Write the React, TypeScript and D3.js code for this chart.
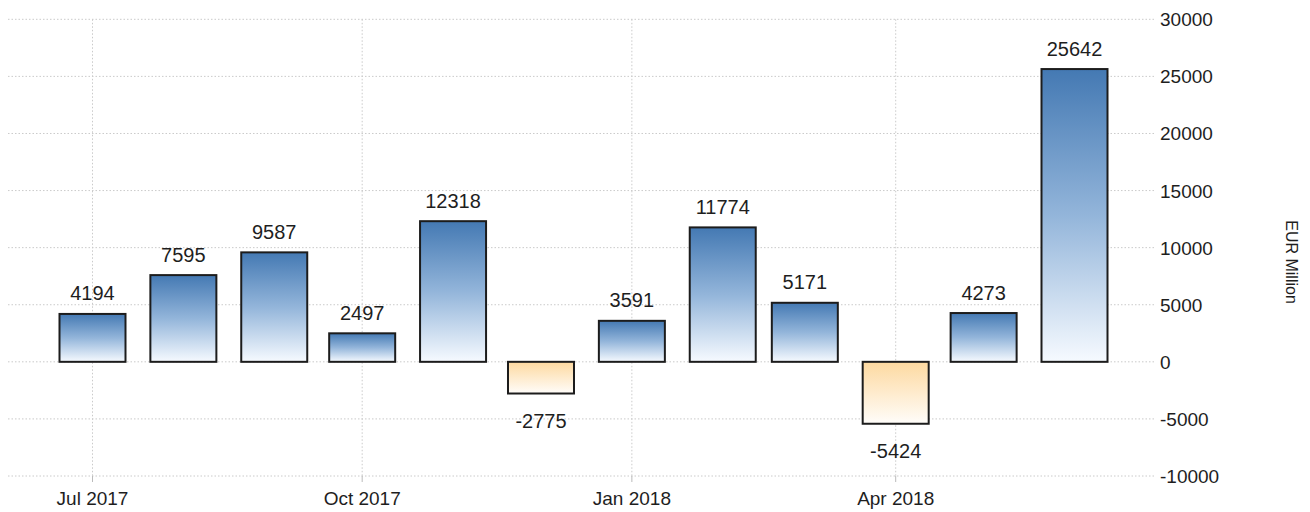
import React from "react";
import * as d3 from "d3";

const months: string[] = [
  "2017-07", "2017-08", "2017-09", "2017-10", "2017-11", "2017-12",
  "2018-01", "2018-02", "2018-03", "2018-04", "2018-05", "2018-06",
];
const values: number[] = [4194, 7595, 9587, 2497, 12318, -2775, 3591, 11774, 5171, -5424, 4273, 25642];
const xTickDates: string[] = ["2017-07", "2017-10", "2018-01", "2018-04"];
const xTickLabels: string[] = ["Jul 2017", "Oct 2017", "Jan 2018", "Apr 2018"];
const yTicks: number[] = [30000, 25000, 20000, 15000, 10000, 5000, 0, -5000, -10000];
const yLabel = "EUR Million";

const parse = (s: string) => {
  const [y, m] = s.split("-").map(Number);
  return new Date(y, m - 1, 1);
};

export default function App() {
  const W = 1310;
  const H = 512;
  const x = d3
    .scaleTime()
    .domain([parse(months[0]), parse(months[months.length - 1])])
    .range([92.5, 1074.5]);
  const y = d3.scaleLinear().domain([-10000, 30000]).range([476, 19.3]);
  const gridLeft = 8;
  const gridRight = 1155;
  const barW = 66;
  const font = "'Liberation Sans', Arial, sans-serif";
  const textColor = "#1e1e1e";

  return (
    <svg
      width={W}
      height={H}
      style={{ position: "absolute", left: 0, top: 0, background: "#fff" }}
      fontFamily={font}
    >
      <defs>
        <linearGradient id="posGrad" x1="0" y1="0" x2="0" y2="1">
          <stop offset="0%" stopColor="#4479b3" />
          <stop offset="50%" stopColor="#93b5da" />
          <stop offset="100%" stopColor="#f6faff" />
        </linearGradient>
        <linearGradient id="negGrad" x1="0" y1="0" x2="0" y2="1">
          <stop offset="0%" stopColor="#fdd9a0" />
          <stop offset="100%" stopColor="#fffdfa" />
        </linearGradient>
      </defs>

      {/* horizontal grid */}
      {yTicks.map((t) => (
        <line
          key={"h" + t}
          x1={gridLeft}
          x2={gridRight}
          y1={y(t)}
          y2={y(t)}
          stroke="#cacaca"
          strokeWidth={1}
          strokeDasharray="1.5,2"
        />
      ))}
      {/* vertical grid */}
      {xTickDates.map((d) => (
        <g key={"v" + d}>
          <line
            x1={x(parse(d))}
            x2={x(parse(d))}
            y1={y(30000)}
            y2={y(-10000)}
            stroke="#cacaca"
            strokeWidth={1}
            strokeDasharray="1.5,2"
          />
          <line
            x1={x(parse(d))}
            x2={x(parse(d))}
            y1={y(-10000)}
            y2={y(-10000) + 6}
            stroke="#bbb"
            strokeWidth={1}
          />
        </g>
      ))}

      {/* bars */}
      {values.map((v, i) => {
        const cx = x(parse(months[i]));
        const y0 = y(0);
        const yv = y(v);
        const top = Math.min(y0, yv);
        const h = Math.abs(yv - y0);
        return (
          <g key={"b" + i}>
            <rect
              x={cx - barW / 2}
              y={top}
              width={barW}
              height={h}
              fill={v >= 0 ? "url(#posGrad)" : "url(#negGrad)"}
              stroke="#1c1c1c"
              strokeWidth={2}
            />
            <text
              x={cx}
              y={v >= 0 ? yv - 13.5 : yv + 34}
              textAnchor="middle"
              fontSize={20}
              fill={textColor}
            >
              {v}
            </text>
          </g>
        );
      })}

      {/* x labels */}
      {xTickDates.map((d, i) => (
        <text
          key={"xl" + d}
          x={x(parse(d))}
          y={505}
          textAnchor="middle"
          fontSize={19}
          fill={textColor}
        >
          {xTickLabels[i]}
        </text>
      ))}

      {/* y labels */}
      {yTicks.map((t) => (
        <text
          key={"yl" + t}
          x={1160}
          y={y(t) + 7}
          textAnchor="start"
          fontSize={19}
          fill={textColor}
        >
          {t}
        </text>
      ))}

      <text
        transform={`translate(1286, 262) rotate(90)`}
        textAnchor="middle"
        fontSize={16}
        fill={textColor}
      >
        {yLabel}
      </text>
    </svg>
  );
}
